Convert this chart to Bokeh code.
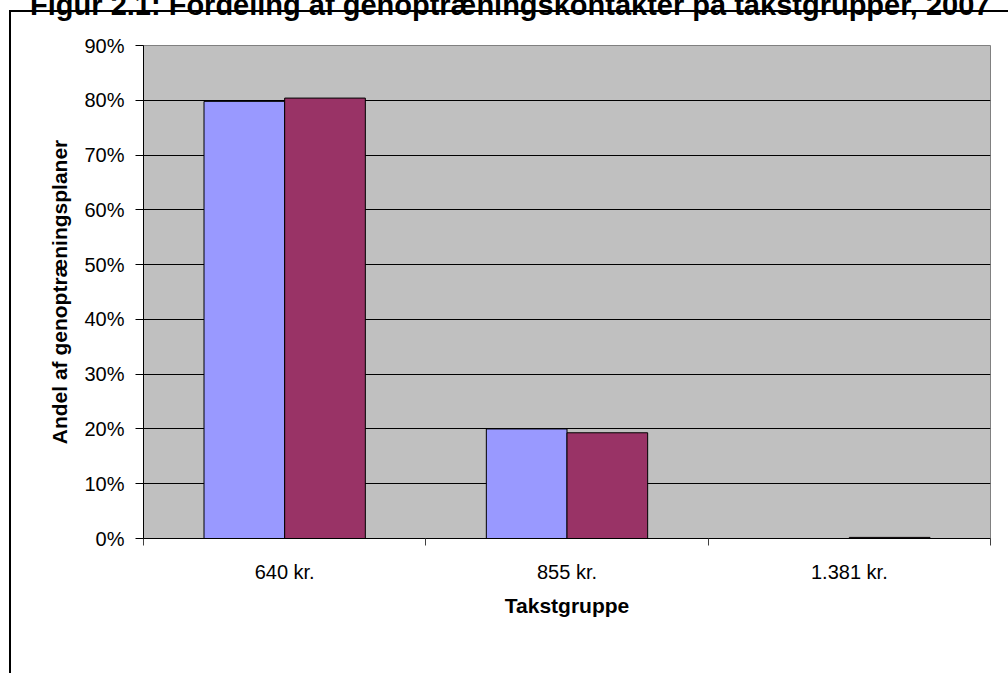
from bokeh.plotting import figure
from bokeh.models import (ColumnDataSource, Range1d, FixedTicker, Title,
                          NumeralTickFormatter, Legend, LegendItem,
                          GlobalInlineStyleSheet)
from bokeh.transform import dodge
from bokeh.embed import file_html
from bokeh.resources import INLINE

# ---- data ----
categories = ["640 kr.", "855 kr.", "1.381 kr."]
almindelig = [0.798, 0.200, 0.0]
specialiseret = [0.804, 0.193, 0.002]
y_ticks = [0.0, 0.1, 0.2, 0.3, 0.4, 0.5, 0.6, 0.7, 0.8, 0.9]
series_names = ["Almindelig", "Specialiseret"]
title_text = "Figur 2.1: Fordeling af genoptræningskontakter på takstgrupper, 2007"
x_title = "Takstgruppe"
y_title = "Andel af genoptræningsplaner"

FONT = "Liberation Sans"
SHIFT = 51  # the upper part of the chart (top of the title) lies above the page

# category slots: category i occupies [i, i+1] on a numeric axis
centers = [i + 0.5 for i in range(len(categories))]
source = ColumnDataSource(dict(category=categories, center=centers,
                               almindelig=almindelig, specialiseret=specialiseret))

p = figure(width=1008, height=673 + SHIFT, output_backend="svg", toolbar_location=None,
           frame_width=847, frame_height=493,
           x_range=Range1d(0, len(categories)), y_range=Range1d(0, 0.9),
           min_border_left=143, min_border_right=18, min_border_top=45 + SHIFT,
           min_border_bottom=135)
p.stylesheets = [GlobalInlineStyleSheet(css=(
    "body { margin: 0; overflow: hidden; }"
    "body::after { content: ''; position: fixed; left: 9px; top: 10px; width: 3000px;"
    " height: 3000px; border-left: 2px solid #000; border-top: 2px solid #000;"
    " pointer-events: none; z-index: 10; }"))]
p.styles = {"margin-top": f"-{SHIFT}px"}

p.title = Title(text=title_text, align="right", standoff=49,
                text_font=FONT, text_font_style="bold", text_font_size="29px",
                text_color="black")

p.background_fill_color = "#C0C0C0"
p.border_fill_color = "white"
p.outline_line_color = "#808080"
p.xgrid.visible = False
p.ygrid.grid_line_color = "black"
p.ygrid.grid_line_width = 1
p.ygrid.ticker = FixedTicker(ticks=y_ticks)

# y axis
yax = p.yaxis[0]
yax.ticker = FixedTicker(ticks=y_ticks)
yax.formatter = NumeralTickFormatter(format="0%")
yax.major_tick_out = 8
yax.major_tick_in = 0
yax.minor_tick_line_color = None
yax.axis_line_color = "black"
yax.major_tick_line_color = "black"
yax.major_label_text_font = FONT
yax.major_label_text_font_size = "20px"
yax.major_label_text_color = "black"
yax.major_label_standoff = 11
yax.axis_label = y_title
yax.axis_label_text_font = FONT
yax.axis_label_text_font_style = "bold"
yax.axis_label_text_font_size = "21px"
yax.axis_label_text_color = "black"
yax.axis_label_standoff = 10

# x axis: labels at category centres, tick marks at category boundaries
xax = p.xaxis[0]
xax.ticker = FixedTicker(ticks=centers, minor_ticks=list(range(len(categories) + 1)))
xax.major_label_overrides = {c: lab for c, lab in zip(centers, categories)}
xax.major_tick_out = 0
xax.major_tick_in = 0
xax.major_tick_line_color = None
xax.minor_tick_out = 7
xax.minor_tick_in = 0
xax.minor_tick_line_color = "#404040"
xax.axis_line_color = "black"
xax.major_label_text_font = FONT
xax.major_label_text_font_size = "20px"
xax.major_label_text_color = "black"
xax.major_label_standoff = 15
xax.axis_label = x_title
xax.axis_label_text_font = FONT
xax.axis_label_text_font_style = "bold"
xax.axis_label_text_font_size = "21px"
xax.axis_label_text_color = "black"
xax.axis_label_standoff = 8

bw = 1 / 3.5
r1 = p.vbar(x=dodge("center", -bw / 2), top="almindelig", width=bw,
            source=source, fill_color="#9999FF", line_color="black", line_width=1)
r2 = p.vbar(x=dodge("center", bw / 2), top="specialiseret", width=bw,
            source=source, fill_color="#993366", line_color="black", line_width=1)

legend = Legend(items=[LegendItem(label=series_names[0], renderers=[r1]),
                       LegendItem(label=series_names[1], renderers=[r2])],
                orientation="horizontal", location="top_center")
legend.label_text_font = FONT
legend.label_text_font_size = "20px"
legend.label_text_color = "black"
legend.glyph_width = 12
legend.glyph_height = 12
legend.label_standoff = 5
legend.spacing = 8
legend.padding = 5
legend.margin = 0
legend.border_line_color = "black"
legend.border_line_width = 1
legend.background_fill_color = "white"
legend.background_fill_alpha = 1
p.add_layout(legend, "below")

open("out.html", "w").write(file_html(p, INLINE))
